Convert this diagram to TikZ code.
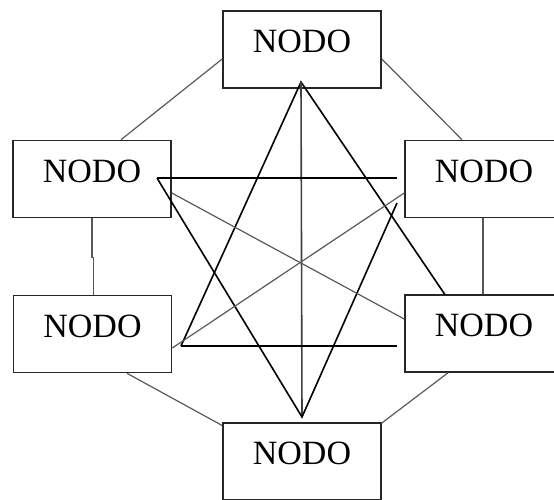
\documentclass[tikz,border=0pt]{standalone}
\usepackage{fontspec}
\setmainfont{Liberation Serif}
\usetikzlibrary{calc}
\begin{document}
\begin{tikzpicture}[x=1pt,y=-1pt,
  box/.style={draw=black!85, line width=1.6pt, minimum width=158pt, minimum height=77pt,
    inner sep=0pt, font=\fontsize{34}{34}\selectfont, text height=22.5pt, text depth=15.6pt},
  starline/.style={line width=1.6pt, black},
  midline/.style={line width=1.6pt, black!75},
  thinline/.style={line width=1.2pt, black!65}]
\useasboundingbox (0,0) rectangle (554,499);
\clip (0,0) rectangle (554,499);
% boxes
\node[box] (T)  at (302,49.5) {NODO};
\node[box] (LU) at (92,179)   {NODO};
\node[box] (RU) at (484,179)  {NODO};
\node[box] (LL) at (92.5,334) {NODO};
\node[box] (RL) at (484,333.5){NODO};
\node[box] (B)  at (302,461.5){NODO};
% star end points
\coordinate (ta) at ($(T.center)+(-1,32.5)$);
\coordinate (ba) at ($(B.center)+(0,-44.5)$);
\coordinate (p1) at ($(LU.center)+(65,-1)$);
\coordinate (p2) at (397,178);
\coordinate (p3) at (397,203);
\coordinate (p4) at (181,346);
\coordinate (p5) at (397,346);
\coordinate (p6) at ($(RL.north)+(-39,0.5)$);
% star
\draw[starline] (p4) -- (ta) -- (p6);
\draw[midline] (ta) -- (ba);
\draw[starline] (p1) -- (ba) -- (p3);
\draw[starline] (p1) -- (p2);
\draw[starline] (p4) -- (p5);
% cross
\draw[thinline] ($(LU.east)+(0,14)$) -- ($(RL.west)+(0,-14.5)$);
\draw[thinline] ($(RU.west)+(0,14)$) -- ($(LL.east)+(0,14)$);
% perimeter
\draw[thinline] ($(T.west)+(0,9.5)$) -- ($(LU.north)+(29,0)$);
\draw[thinline] ($(T.east)+(0,9.5)$) -- ($(RU.north)+(-22,0)$);
\draw[thinline] (LU.south) -- ++(0,39) -- ++(1.5,0) |- (LL.north);
\draw[thinline] ($(RU.south)+(-1,0)$) -- ($(RL.north)+(-1,0)$);
\draw[thinline] ($(LL.south)+(34.5,0)$) -- ($(B.west)+(0,-36)$);
\draw[thinline] ($(RL.south)+(-36,0)$) -- ($(B.east)+(0,-38.5)$);
\end{tikzpicture}
\end{document}
